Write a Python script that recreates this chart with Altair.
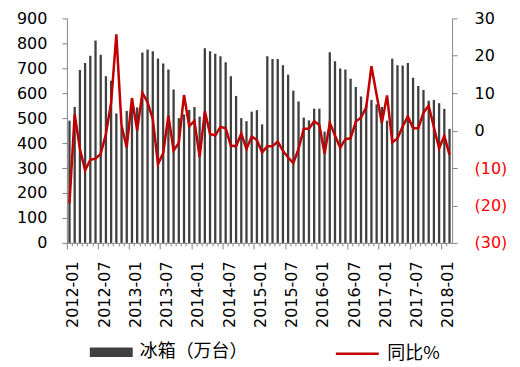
import altair as alt
import pandas as pd

months = pd.date_range("2012-01-01", periods=74, freq="MS").strftime("%Y-%m").tolist()

fridge = [490, 545, 693, 721, 750, 811, 754, 668, 650, 519, 463, 529,
          560, 543, 763, 775, 768, 739, 719, 695, 615, 500, 515, 533,
          545, 506, 780, 768, 758, 748, 724, 668, 589, 500, 488, 526,
          532, 475, 748, 737, 737, 712, 674, 610, 567, 502, 491, 538,
          538, 446, 764, 728, 699, 695, 658, 625, 587, 555, 573, 555,
          545, 490, 738, 712, 711, 721, 662, 629, 613, 570, 573, 560,
          537, 457]

yoy = [-19.4, 4.4, -4.9, -10.6, -7.8, -7.5, -6.2, -0.9, 7.5, 25.7, 1.3, -4.5,
       8.7, 0.0, 10.1, 7.6, 3.1, -9.0, -6.0, 4.0, -5.3, -3.3, 9.5, 1.2,
       2.6, -7.1, 5.2, -0.9, -1.3, 1.0, 0.6, -4.0, -4.2, -0.8, -4.9, -1.6,
       -2.5, -5.8, -4.2, -4.2, -2.9, -5.4, -7.2, -8.7, -4.9, 0.5, 0.5, 2.5,
       1.5, -6.2, 2.1, -1.3, -4.6, -2.3, -2.0, 2.4, 3.5, 6.2, 17.2, 9.5,
       2.0, 9.4, -3.1, -2.1, 1.1, 3.8, 0.6, 0.6, 4.8, 6.7, 0.9, -4.8,
       -1.4, -6.5]

bar_name = "冰箱（万台）"
line_name = "同比%"

left_ticks = list(range(0, 901, 100))
right_ticks = list(range(-30, 31, 10))

df = pd.DataFrame({"month": months, "fridge": fridge, "yoy": yoy,
                   "s1": bar_name, "s2": line_name})

GRAY = "#868686"
FONT = "DejaVu Sans"
CJK = "Noto Sans CJK SC"
major = "(substring(datum.value,5,7)=='01'||substring(datum.value,5,7)=='07')"

x_axis = alt.Axis(
    title=None, labelAngle=-90, labelFont=FONT, labelFontSize=16, labelColor="black",
    labelExpr=major + " ? datum.value : ''",
    bandPosition=0,
    tickSize={"condition": {"test": major, "value": 6}, "value": 3},
    tickColor=GRAY, domainColor=GRAY, labelPadding=12, labelOffset=4,
    labelOverlap=False, labelAlign="right", labelBaseline="middle", grid=False,
)
x_enc = alt.X("month:O", scale=alt.Scale(type="band", paddingInner=0, paddingOuter=0), axis=x_axis)

bars = alt.Chart(df).mark_bar(size=2.3).encode(
    x=x_enc,
    y=alt.Y("fridge:Q", scale=alt.Scale(domain=[0, 900], nice=False),
            axis=alt.Axis(title=None, values=left_ticks, tickSize=5, labelPadding=15,
                          labelFont=FONT, labelFontSize=16, labelColor="black",
                          domainColor=GRAY, tickColor=GRAY, grid=False, labelFlush=False)),
    fill=alt.Fill("s1:N", scale=alt.Scale(domain=[bar_name], range=["#404040"]),
                  legend=alt.Legend(title=None, orient="none", legendX=23, legendY=313,
                                    symbolType="M-1,-0.22H1V0.22H-1Z", symbolSize=1849,
                                    symbolStrokeWidth=0, labelFont=CJK, labelFontSize=18,
                                    labelColor="black", labelOffset=7, padding=0)),
)

line = alt.Chart(df).mark_line(strokeWidth=2.5).encode(
    x=x_enc,
    y=alt.Y("yoy:Q", scale=alt.Scale(domain=[-30, 30], nice=False),
            axis=alt.Axis(title=None, orient="right", values=right_ticks, tickSize=5,
                          labelPadding=17, labelFont=FONT, labelFontSize=16,
                          labelExpr="datum.value < 0 ? '(' + abs(datum.value) + ')' : datum.label",
                          labelColor={"condition": {"test": "datum.value < 0", "value": "#FF0000"},
                                      "value": "black"},
                          domainColor=GRAY, tickColor=GRAY, grid=False, labelFlush=False)),
    stroke=alt.Stroke("s2:N", scale=alt.Scale(domain=[line_name], range=["#C00000"]),
                      legend=alt.Legend(title=None, orient="none", legendX=268, legendY=313,
                                        symbolType="stroke", symbolSize=1849,
                                        symbolStrokeWidth=2.5, labelFont=CJK, labelFontSize=18,
                                        labelColor="black", labelOffset=7, padding=0)),
)

chart = alt.layer(bars, line).resolve_scale(
    y="independent", fill="independent", stroke="independent"
).properties(
    width=386, height=225,
    padding={"left": 59, "top": 10, "right": 60, "bottom": 123},
    autosize=alt.AutoSizeParams(type="none"),
).configure_view(stroke=None)

chart.save("out.html", embed_options={"renderer": "svg", "actions": False})
